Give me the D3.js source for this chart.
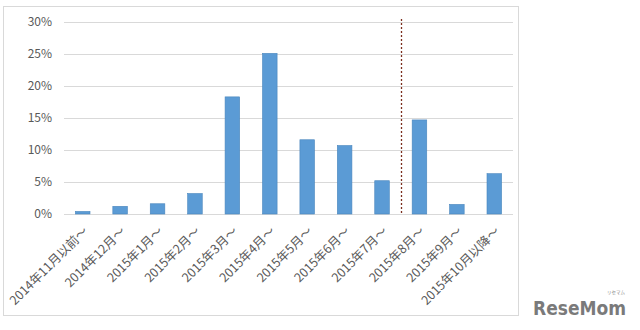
<!DOCTYPE html>
<html><head><meta charset="utf-8">
<script src="https://cdn.jsdelivr.net/npm/d3@7"></script>
<style>body{margin:0;background:#fff;} svg{display:block;}</style>
</head><body>
<svg id="c" width="640" height="330"></svg>
<script>
const categories = ["2014年11月以前～","2014年12月～","2015年1月～","2015年2月～","2015年3月～","2015年4月～","2015年5月～","2015年6月～","2015年7月～","2015年8月～","2015年9月～","2015年10月以降～"];
const values = [0.4, 1.2, 1.6, 3.2, 18.3, 25.1, 11.6, 10.7, 5.2, 14.7, 1.5, 6.3];
const yTicks = [0, 5, 10, 15, 20, 25, 30];
const dividerAfter = "2015年7月～";

const svg = d3.select("#c");
const font = "'Noto Sans CJK JP', 'Noto Sans', sans-serif";
const m = {l: 64, r: 127, t: 22, b: 116};
const W = 640, H = 330;

// chart border
svg.append("rect").attr("x", 3.5).attr("y", 6.5).attr("width", 515).attr("height", 309)
  .attr("fill", "#fff").attr("stroke", "#d9d9d9").attr("stroke-width", 1);

const x = d3.scaleBand().domain(categories).range([m.l, W - m.r]).paddingInner(0.61).paddingOuter(0.305);
const y = d3.scaleLinear().domain([0, 30]).range([H - m.b, m.t]);

const yAxis = d3.axisLeft(y).tickValues(yTicks).tickFormat(d => d + "%").tickSize(-(W - m.r - m.l)).tickPadding(12);
const gy = svg.append("g").attr("transform", `translate(${m.l},0)`).call(yAxis);
gy.select(".domain").remove();
gy.selectAll(".tick line").attr("stroke", "#d9d9d9").attr("stroke-width", 1);
gy.selectAll(".tick text").attr("fill", "#595959").style("font-family", font).style("font-size", "12px");

svg.append("g").selectAll("rect").data(values).join("rect")
  .attr("x", (d, i) => x(categories[i]))
  .attr("y", d => y(d))
  .attr("width", x.bandwidth())
  .attr("height", d => y(0) - y(d))
  .attr("fill", "#5b9bd5")
  .attr("stroke", "#4a86bd").attr("stroke-width", 0.6);

// divider
const step = x.step();
const dx = Math.round(x(dividerAfter) + x.bandwidth() / 2 + step / 2) + 0.5;
svg.append("line").attr("x1", dx).attr("x2", dx).attr("y1", 19).attr("y2", y(0))
  .attr("stroke", "#7b2e1e").attr("stroke-width", 1.3).attr("stroke-dasharray", "2,2");

const xAxis = d3.axisBottom(x).tickSize(0).tickPadding(0);
const gx = svg.append("g").attr("transform", `translate(0,${y(0)})`).call(xAxis);
gx.select(".domain").remove();
gx.selectAll(".tick text")
  .attr("fill", "#595959").style("font-family", font).style("font-size", "12.5px")
  .attr("text-anchor", "end").attr("dy", "0")
  .attr("transform", "translate(6,18) rotate(-45)");

// logo
svg.append("text").attr("x", 533).attr("y", 315).text("ReseMom")
  .attr("fill", "#7a7a7a").style("font-family", "'DejaVu Sans Condensed', 'DejaVu Sans', sans-serif").style("font-weight", "bold").style("font-size", "19px");
svg.append("text").attr("x", 607).attr("y", 294).text("リセマム")
  .attr("fill", "#8a8a8a").style("font-family", font).style("font-size", "4.5px");
</script>
</body></html>
